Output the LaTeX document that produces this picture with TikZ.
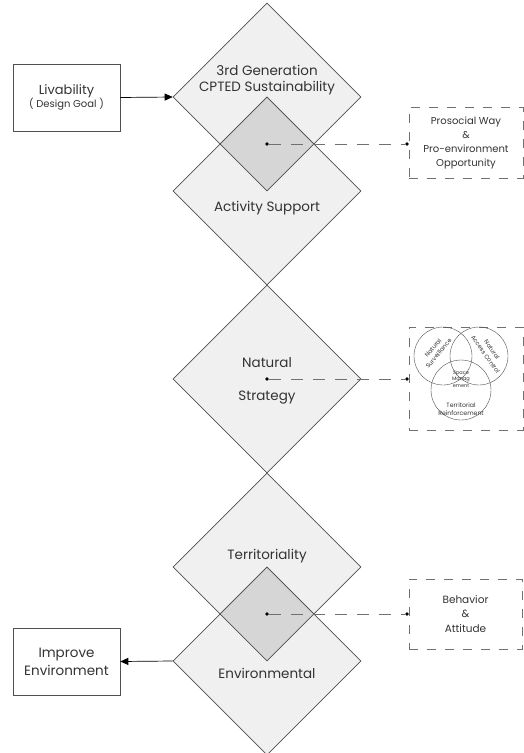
\documentclass[tikz,border=0pt]{standalone}
\usepackage{fontspec}
\setmainfont{Poppins}
\usetikzlibrary{shapes.geometric,arrows.meta}
\definecolor{linec}{HTML}{505050}
\definecolor{diafill}{HTML}{F0F0F0}
\definecolor{ovfill}{HTML}{D6D6D6}
\definecolor{txt}{HTML}{333333}
\definecolor{dashc}{HTML}{707070}
\begin{document}
\begin{tikzpicture}[x=1pt,y=-1pt,
  dia/.style={shape=diamond, draw=linec, fill=diafill, minimum width=188, minimum height=188, inner sep=0pt, line width=0.6pt},
  ovdia/.style={shape=diamond, draw=linec, fill=ovfill, minimum width=94, minimum height=94, inner sep=0pt, line width=0.6pt},
  lbl/.style={text=txt, font=\fontsize{13.5}{15.5}\selectfont, inner sep=0pt},
  sbox/.style={draw=linec, line width=0.6pt, fill=white, text=txt, align=center, inner sep=0pt},
  dbox/.style={draw=dashc, line width=0.5pt, dash pattern=on 9pt off 9pt, text=txt, align=center, inner sep=0pt},
  dot/.style={circle, fill=black, inner sep=0pt, minimum size=3.6pt},
  conn/.style={draw=dashc, line width=0.6pt, dash pattern=on 12pt off 10pt},
  arr/.style={draw=black, line width=0.7pt, -{Triangle[length=8pt,width=7pt]}},
  vc/.style={draw=linec, line width=0.4pt},
  vt/.style={text=txt, inner sep=0pt, font=\fontsize{6}{6.5}\selectfont}
]
\path[use as bounding box, fill=white] (0,0) rectangle (524,753);

% diamonds
\node[dia] (gen) at (267,97) {};
\node[dia] (act) at (267,191) {};
\node[ovdia] (ov1) at (267,144) {};
\node[dia] (nat) at (267,379) {};
\node[dia] (ter) at (267,567) {};
\node[dia] (env) at (267,661) {};
\node[ovdia] (ov2) at (267,614) {};

% diamond labels
\node[lbl, align=center] (tgen) at (267,80) {3rd Generation\\CPTED Sustainability};
\node[lbl] (tact) at (267,208) {Activity Support};
\node[lbl] (tnat1) at (267,363) {Natural};
\node[lbl] (tnat2) at (267,398) {Strategy};
\node[lbl] (tter) at (267,556) {Territoriality};
\node[lbl] (tenv) at (267,673) {Environmental};

% side boxes
\node[sbox, minimum width=107, minimum height=67] (liv) at (66.5,97.5)
  {{\fontsize{13}{14}\selectfont Livability}\\[-1pt]{\fontsize{10}{11}\selectfont ( Design Goal )}};
\node[sbox, minimum width=107, minimum height=67, font=\fontsize{13.5}{18}\selectfont] (imp) at (66.5,661.5)
  {Improve\\Environment};
\draw[arr] (liv.east) -- (gen.west);
\draw[arr] (env.west) -- (imp.east);

% dashed boxes
\node[dbox, minimum width=114, minimum height=71, font=\fontsize{10}{14}\selectfont] (pro) at (466,142.5)
  {Prosocial Way\\\&\\Pro-environment\\Opportunity};
\node[dbox, minimum width=114, minimum height=103] (venn) at (466,378.5) {};
\node[dbox, minimum width=113, minimum height=70, font=\fontsize{10.5}{14.5}\selectfont] (beh) at (465.5,614)
  {Behavior\\\&\\Attitude};

% dots and connectors
\node[dot] (d1) at (267,144) {};
\node[dot] (e1) at (407,144) {};
\node[dot] (d2) at (267,379) {};
\node[dot] (e2) at (407,379) {};
\node[dot] (d3) at (267,614) {};
\node[dot] (e3) at (407,614) {};
\draw[conn] (d1) -- (e1);
\draw[conn] (d2) -- (e2);
\draw[conn] (d3) -- (e3);

% venn diagram
\draw[vc] (443,356) circle[radius=29];
\draw[vc] (479,356) circle[radius=29];
\draw[vc] (461,390) circle[radius=30];
\node[vt, rotate=50] (vs1) at (433,348) {Natural};
\node[vt, rotate=50] (vs2) at (438.5,353.5) {Surveillance};
\node[vt, rotate=-55] (va1) at (492,349.5) {Natural};
\node[vt, rotate=-55] (va2) at (485.5,354.5) {Access Control};
\node[vt, font=\fontsize{5}{6.3}\selectfont, align=center] (vm) at (461,379) {Space\\Manag\\ement};
\node[vt, font=\fontsize{6.2}{8}\selectfont, align=center] (vr) at (461,409) {Territorial\\Reinforcement};
\end{tikzpicture}
\end{document}
